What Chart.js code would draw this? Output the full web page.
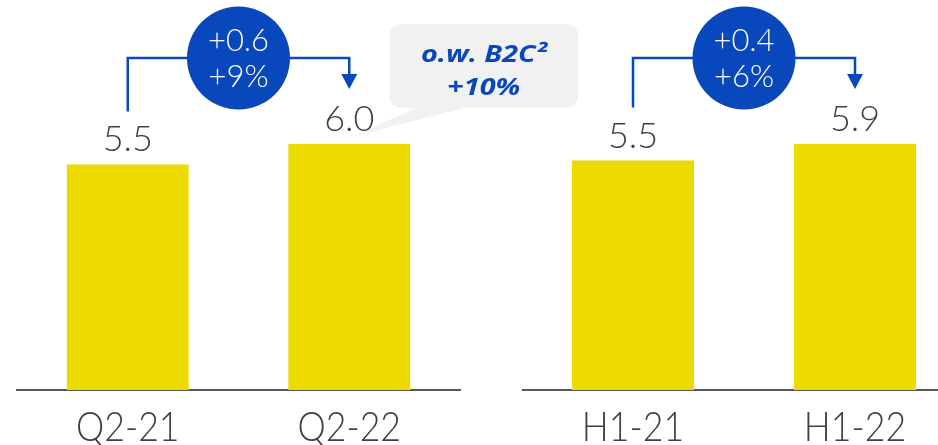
<!DOCTYPE html>
<html>
<head>
<meta charset="utf-8">
<script src="https://cdn.jsdelivr.net/npm/chart.js@4.4.0/dist/chart.umd.min.js"></script>
<style>
  html, body { margin: 0; padding: 0; background: #fff; overflow: hidden; }
  #wrap { position: relative; width: 938px; height: 445px; overflow: hidden; }
  #wrap canvas { position: absolute; top: 0; }
  #quarter-chart { left: 0; }
  #half-chart { left: 522px; }
</style>
</head>
<body>
<div id="wrap">
  <canvas id="quarter-chart" width="600" height="445"></canvas>
  <canvas id="half-chart" width="444" height="445"></canvas>
</div>
<script>
const quarterLabels = ["Q2-21", "Q2-22"];
const quarterValues = [5.5, 6.0];
const quarterChange = ["+0.6", "+9%"];

const halfLabels = ["H1-21", "H1-22"];
const halfValues = [5.5, 5.9];
const halfChange = ["+0.4", "+6%"];

const calloutLines = ["o.w. B2C²", "+10%"];

const YELLOW = "#EDDA00";
const BLUE = "#0848BC";
const TEXT = "#404040";

// draw text squeezed or stretched horizontally around (x, y)
function fillScaled(ctx, text, x, y, sx) {
  ctx.save();
  ctx.translate(x, y);
  ctx.scale(sx, 1);
  ctx.fillText(text, 0, 0);
  ctx.restore();
}

// category labels, value above each bar, bracket arrow and change bubble
function changeMarks(change, callout) {
  return {
    id: "changeMarks",
    afterDatasetsDraw(chart) {
      const ctx = chart.ctx;
      const xScale = chart.scales.x;
      const bars = chart.getDatasetMeta(0).data;
      const values = chart.data.datasets[0].data;
      const x1 = bars[0].x;
      const x2 = bars[1].x;
      const lineY = 58;

      ctx.save();
      ctx.textAlign = "center";
      ctx.textBaseline = "alphabetic";

      // condensed category labels under the axis
      ctx.fillStyle = TEXT;
      ctx.font = "300 42px Lato";
      chart.data.labels.forEach((label, i) => {
        fillScaled(ctx, label, xScale.getPixelForTick(i), 441, 0.85);
      });

      if (callout) {
        const left = x2 + 40;
        const right = x2 + 229;
        const top = 24;
        const bottom = 108;
        ctx.fillStyle = "#f1f1f1";
        ctx.beginPath();
        ctx.roundRect(left, top, right - left, bottom - top, 12);
        ctx.fill();
        ctx.beginPath();
        ctx.moveTo(left + 32, bottom - 2);
        ctx.lineTo(left + 82, bottom - 2);
        ctx.lineTo(x2 + 2, bars[1].y - 7);
        ctx.closePath();
        ctx.fill();

        ctx.fillStyle = BLUE;
        ctx.font = "italic 700 24px 'Open Sans'";
        const cx = (left + right) / 2;
        fillScaled(ctx, callout[0], cx, 62, 1.2);
        fillScaled(ctx, callout[1], cx, 95, 1.2);
      }

      // values
      ctx.fillStyle = TEXT;
      ctx.font = "300 36px Lato";
      bars.forEach((bar, i) => {
        ctx.fillText(values[i].toFixed(1), bar.x, bar.y - 13);
      });

      // bracket
      const start = bars[0].y - 53;
      const tip = bars[1].y - 55;
      ctx.strokeStyle = BLUE;
      ctx.lineWidth = 2.5;
      ctx.beginPath();
      ctx.moveTo(x1, start);
      ctx.lineTo(x1, lineY);
      ctx.lineTo(x2, lineY);
      ctx.lineTo(x2, tip - 12);
      ctx.stroke();
      ctx.fillStyle = BLUE;
      ctx.beginPath();
      ctx.moveTo(x2 - 8, tip - 15);
      ctx.lineTo(x2 + 8, tip - 15);
      ctx.lineTo(x2, tip);
      ctx.closePath();
      ctx.fill();

      // bubble
      const mx = (x1 + x2) / 2;
      ctx.beginPath();
      ctx.arc(mx, lineY, 51.5, 0, Math.PI * 2);
      ctx.fill();
      ctx.fillStyle = "#ffffff";
      ctx.font = "300 31px Lato";
      ctx.fillText(change[0], mx, 51);
      ctx.fillText(change[1], mx, 87);

      ctx.restore();
    }
  };
}

function buildOptions(yMax, padLeft, padRight) {
  return {
    responsive: false,
    animation: false,
    layout: { padding: { left: padLeft, right: padRight, top: 0, bottom: 0 } },
    plugins: { legend: { display: false }, tooltip: { enabled: false } },
    scales: {
      x: {
        grid: { display: false },
        border: { display: true, color: "#595959", width: 2 },
        ticks: { display: false },
        afterFit: (scale) => {
          scale.height = 55;
        },
      },
      y: { display: false, min: 0, max: yMax },
    },
  };
}

function setupBarChart(id, labels, values, change, yMax, padLeft, padRight, callout) {
  new Chart(document.getElementById(id), {
    type: "bar",
    data: {
      labels: labels,
      datasets: [
        {
          data: values,
          backgroundColor: YELLOW,
          barPercentage: 0.55,
          categoryPercentage: 1.0,
        },
      ],
    },
    options: buildOptions(yMax, padLeft, padRight),
    plugins: [changeMarks(change, callout)],
  });
}

setupBarChart("quarter-chart", quarterLabels, quarterValues, quarterChange, 9.51, 17, 140, calloutLines);
setupBarChart("half-chart", halfLabels, halfValues, halfChange, 9.35, 0, 0, null);
</script>
</body>
</html>
